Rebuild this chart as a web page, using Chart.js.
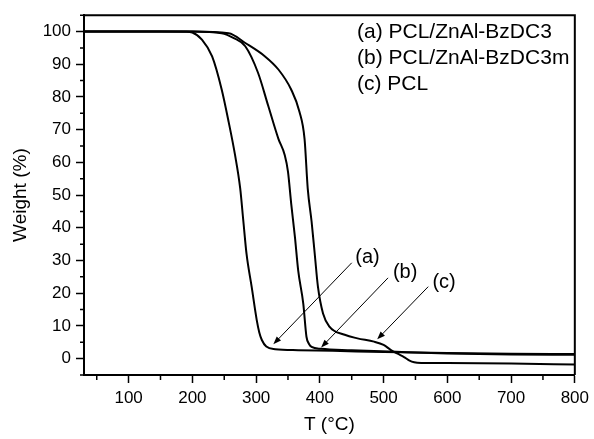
<!DOCTYPE html>
<html>
<head>
<meta charset="utf-8">
<script src="https://cdn.jsdelivr.net/npm/chart.js@4.4.0/dist/chart.umd.min.js"></script>
<style>
  html, body { margin: 0; padding: 0; background: #fff; }
</style>
</head>
<body>
<canvas id="tgaChart" width="594" height="439"></canvas>
<script>
// (a) PCL/ZnAl-BzDC3
const tempA   = [30, 150, 190, 200, 215, 231, 246, 257, 267, 275, 280, 285, 293, 301, 305, 309, 316, 330, 366, 420, 500, 600, 700, 800];
const weightA = [100, 100, 99.95, 99.7, 97.5, 92.4, 82.3, 72.3, 62.2, 52.1, 42, 32, 22, 11.8, 8, 5.7, 3.7, 2.9, 2.6, 2.4, 2.0, 1.7, 1.5, 1.4];

// (b) PCL/ZnAl-BzDC3m
const tempB   = [30, 200, 246, 265, 283, 303, 319, 335, 345, 350, 355, 361, 366, 374, 379, 383, 387, 402, 450, 520, 600, 700, 800];
const weightB = [100, 100, 99.5, 98, 95.5, 87.4, 77.3, 67.2, 62.2, 57.2, 47.5, 37, 27, 16.8, 6.7, 4.5, 3.6, 3.0, 2.6, 2.1, 1.6, 1.3, 1.2];

// (c) PCL
const tempC   = [30, 200, 257, 283, 314, 335, 355, 368, 376, 381, 387, 392, 397, 405, 415, 439, 459, 485, 500, 511, 522, 532, 540, 548, 560, 600, 700, 800];
const weightC = [100, 100, 99.5, 96.5, 92.4, 88.4, 82.3, 75.5, 67.2, 52, 42, 32, 22, 13.8, 9.8, 7.3, 6.2, 5.2, 4.2, 2.7, 1.5, 0.5, -0.5, -1.1, -1.3, -1.35, -1.5, -1.8];

const seriesNames = ['(a) PCL/ZnAl-BzDC3', '(b) PCL/ZnAl-BzDC3m', '(c) PCL'];
const curveTags = ['(a)', '(b)', '(c)'];

const xTickValues = [100, 200, 300, 400, 500, 600, 700, 800];
const yTickValues = [0, 10, 20, 30, 40, 50, 60, 70, 80, 90, 100];

const toPoints = (xs, ys) => xs.map((x, i) => ({ x: x, y: ys[i] }));

const FONT = "'Liberation Sans', Arial, sans-serif";

// frame, minor ticks, text legend and the arrow labels
const extras = {
  id: 'extras',
  afterDraw(chart) {
    const ctx = chart.ctx;
    const area = chart.chartArea;
    const xs = chart.scales.x;
    const ys = chart.scales.y;
    ctx.save();

    // top + right border
    ctx.strokeStyle = '#000';
    ctx.lineWidth = 2;
    ctx.beginPath();
    ctx.moveTo(area.left, area.top);
    ctx.lineTo(area.right, area.top);
    ctx.lineTo(area.right, area.bottom);
    ctx.stroke();

    // minor ticks
    ctx.lineWidth = 1.5;
    ctx.beginPath();
    for (let v = 50; v < 800; v += 100) {
      const px = xs.getPixelForValue(v);
      ctx.moveTo(px, area.bottom);
      ctx.lineTo(px, area.bottom + 5);
    }
    for (let v = -5; v <= 105; v += 10) {
      const py = ys.getPixelForValue(v);
      ctx.moveTo(area.left, py);
      ctx.lineTo(area.left - 4, py);
    }
    ctx.stroke();

    // legend (text only)
    ctx.fillStyle = '#000';
    ctx.font = '21px ' + FONT;
    ctx.textAlign = 'left';
    ctx.textBaseline = 'middle';
    seriesNames.forEach((s, i) => ctx.fillText(s, 357, 32 + i * 26));

    // arrow labels, in data coordinates
    ctx.font = '20px ' + FONT;
    const tagPos  = [[476, 30.9], [535, 26.4], [597, 23.4]];
    const arrFrom = [[450, 29.3], [507, 24.7], [570, 22.0]];
    const arrTo   = [[327, 4.4], [402, 3.4], [490, 5.9]];
    curveTags.forEach((t, i) => {
      ctx.fillText(t, xs.getPixelForValue(tagPos[i][0]) - 13, ys.getPixelForValue(tagPos[i][1]));
      const x1 = xs.getPixelForValue(arrFrom[i][0]), y1 = ys.getPixelForValue(arrFrom[i][1]);
      const x2 = xs.getPixelForValue(arrTo[i][0]), y2 = ys.getPixelForValue(arrTo[i][1]);
      const ang = Math.atan2(y2 - y1, x2 - x1);
      ctx.lineWidth = 1;
      ctx.beginPath();
      ctx.moveTo(x1, y1);
      ctx.lineTo(x2 - 6 * Math.cos(ang), y2 - 6 * Math.sin(ang));
      ctx.stroke();
      ctx.beginPath();
      ctx.moveTo(x2, y2);
      ctx.lineTo(x2 - 8 * Math.cos(ang) + 3 * Math.sin(ang), y2 - 8 * Math.sin(ang) - 3 * Math.cos(ang));
      ctx.lineTo(x2 - 8 * Math.cos(ang) - 3 * Math.sin(ang), y2 - 8 * Math.sin(ang) + 3 * Math.cos(ang));
      ctx.closePath();
      ctx.fill();
    });
    ctx.restore();
  }
};

const lineStyle = {
  borderColor: '#000',
  borderWidth: 2,
  pointRadius: 0,
  fill: false,
  cubicInterpolationMode: 'monotone'
};

new Chart(document.getElementById('tgaChart'), {
  type: 'line',
  data: {
    datasets: [
      Object.assign({ label: seriesNames[0], data: toPoints(tempA, weightA) }, lineStyle),
      Object.assign({ label: seriesNames[1], data: toPoints(tempB, weightB) }, lineStyle),
      Object.assign({ label: seriesNames[2], data: toPoints(tempC, weightC) }, lineStyle)
    ]
  },
  options: {
    responsive: false,
    animation: false,
    devicePixelRatio: 1,
    layout: { padding: { top: 12, right: 15, left: 0, bottom: 0 } },
    plugins: { legend: { display: false }, tooltip: { enabled: false } },
    scales: {
      x: {
        type: 'linear',
        min: 30,
        max: 800,
        afterBuildTicks: (s) => { s.ticks = xTickValues.map(v => ({ value: v })); },
        afterFit: (s) => { s.height = 64; },
        grid: { drawOnChartArea: false, tickLength: 8, tickColor: '#000', tickWidth: 1.5 },
        border: { display: true, color: '#000', width: 2 },
        ticks: { color: '#000', padding: 5, maxRotation: 0, font: { family: FONT, size: 17 } },
        title: { display: true, text: 'T (°C)', color: '#000', padding: { top: 0, bottom: 3 }, font: { family: FONT, size: 19 } }
      },
      y: {
        min: -5,
        max: 105,
        afterBuildTicks: (s) => { s.ticks = yTickValues.map(v => ({ value: v })); },
        afterFit: (s) => { s.width = 84; },
        grid: { drawOnChartArea: false, tickLength: 8, tickColor: '#000', tickWidth: 1.5 },
        border: { display: true, color: '#000', width: 2 },
        ticks: { color: '#000', padding: 5, font: { family: FONT, size: 17 } },
        title: { display: true, text: 'Weight (%)', color: '#000', padding: { top: 9, bottom: 0 }, font: { family: FONT, size: 19 } }
      }
    }
  },
  plugins: [extras]
});
</script>
</body>
</html>
